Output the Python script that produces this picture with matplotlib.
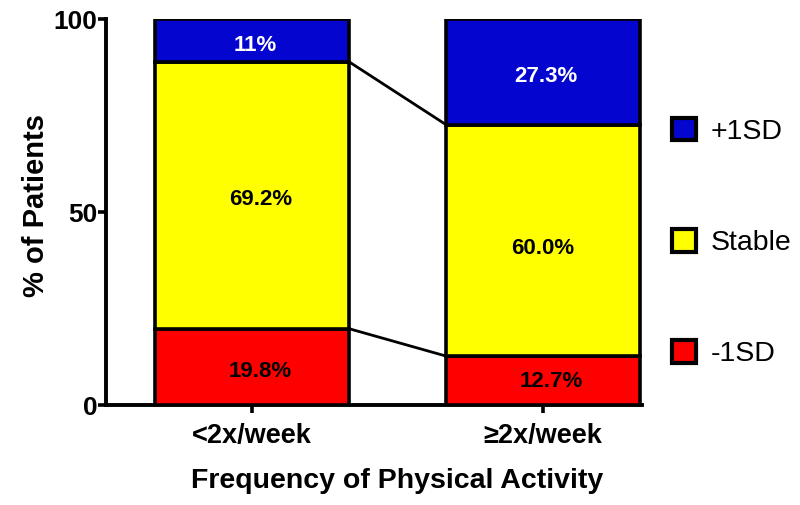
import matplotlib
matplotlib.use("Agg")
import matplotlib.pyplot as plt
from matplotlib.patches import Patch

plt.rcParams['font.family'] = ['Liberation Sans', 'DejaVu Sans']

categories = ['<2x/week', '≥2x/week']
minus_1sd = [19.8, 12.7]
stable = [69.2, 60.0]
plus_1sd = [11.0, 27.3]
label_minus = ['19.8%', '12.7%']
label_stable = ['69.2%', '60.0%']
label_plus = ['11%', '27.3%']
series_names = ['+1SD', 'Stable', '-1SD']
colors = {'+1SD': '#0505d0', 'Stable': '#ffff00', '-1SD': '#ff0000'}

# small label nudges (points), styling only
nudge_minus = [(6.5, -3.6), (5.8, -0.7)]
nudge_stable = [(6.5, -3.2), (0.0, -5.8)]
nudge_plus = [(2.9, -3.6), (2.2, -3.6)]

fig = plt.figure(figsize=(8, 5.05), dpi=100)
ax = fig.add_axes([0.1325, 0.198, 0.67, 0.764])

x = [0, 1]
w = 0.667
lw = 2.6
ax.bar(x, minus_1sd, w, color=colors['-1SD'], edgecolor='black', linewidth=lw, zorder=3)
ax.bar(x, stable, w, bottom=minus_1sd, color=colors['Stable'], edgecolor='black', linewidth=lw, zorder=3)
bot2 = [a + b for a, b in zip(minus_1sd, stable)]
ax.bar(x, plus_1sd, w, bottom=bot2, color=colors['+1SD'], edgecolor='black', linewidth=lw, zorder=3)

# connecting lines
ax.plot([x[0] + w / 2, x[1] - w / 2], [minus_1sd[0], minus_1sd[1]], color='black', lw=2, zorder=2)
ax.plot([x[0] + w / 2, x[1] - w / 2], [bot2[0], bot2[1]], color='black', lw=2, zorder=2)

fs = 16
for i in range(2):
    ax.annotate(label_minus[i], (x[i], minus_1sd[i] / 2), xytext=nudge_minus[i], textcoords='offset points',
                ha='center', va='center', fontsize=fs, fontweight='bold', zorder=4)
    ax.annotate(label_stable[i], (x[i], minus_1sd[i] + stable[i] / 2), xytext=nudge_stable[i], textcoords='offset points',
                ha='center', va='center', fontsize=fs, fontweight='bold', zorder=4)
    ax.annotate(label_plus[i], (x[i], bot2[i] + plus_1sd[i] / 2), xytext=nudge_plus[i], textcoords='offset points',
                ha='center', va='center', fontsize=fs, fontweight='bold', color='white', zorder=4)

ax.set_xlim(-0.5, 1.34)
ax.set_ylim(0, 100)
ax.set_yticks([0, 50, 100])
ax.set_xticks(x)
ax.set_xticklabels(categories, fontsize=19.5, fontweight='bold')
ax.tick_params(axis='y', labelsize=19, width=2.6, length=6, pad=0)
ax.tick_params(axis='x', width=2.6, length=6, pad=7)
for t in ax.get_yticklabels():
    t.set_fontweight('bold')
for s in ['top', 'right']:
    ax.spines[s].set_visible(False)
for s in ['left', 'bottom']:
    ax.spines[s].set_linewidth(2.8)
ax.set_ylabel('% of Patients', fontsize=21, fontweight='bold', labelpad=3, y=0.518)
ax.set_xlabel('Frequency of Physical Activity', fontsize=20.5, fontweight='bold', labelpad=13.5, x=0.543)

handles = [Patch(facecolor=colors[n], edgecolor='black', linewidth=3, label=n) for n in series_names]
fig.legend(handles=handles, loc='center left', bbox_to_anchor=(0.808, 0.52), frameon=False,
           fontsize=20.5, labelspacing=2.95, handlelength=0.85, handleheight=0.85, handletextpad=0.5)

fig.savefig('out.png', dpi=100)
